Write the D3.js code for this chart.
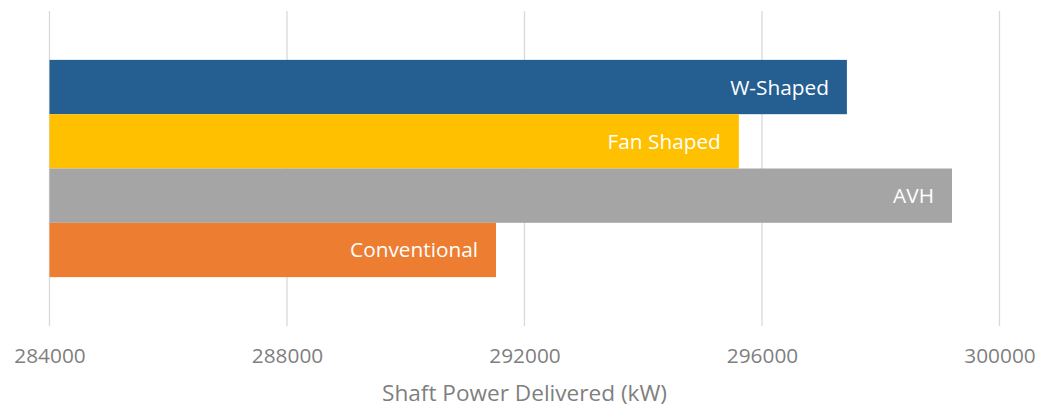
<!DOCTYPE html>
<html>
<head>
<meta charset="utf-8">
<script src="https://cdn.jsdelivr.net/npm/d3@7"></script>
<style>
  body { margin: 0; background: #fff; }
  svg { display: block; font-family: "Open Sans", sans-serif; }
</style>
</head>
<body>
<script>
// data
const designs = ["W-Shaped", "Fan Shaped", "AVH", "Conventional"];
const shaftPower = [297430, 295610, 299200, 291520];
const barColors = ["#255E91", "#FFC000", "#A5A5A5", "#ED7D31"];
const xTicks = [284000, 288000, 292000, 296000, 300000];
const xTitle = "Shaft Power Delivered (kW)";

const width = 1038, height = 408;
const margin = { top: 11, right: 38.5, bottom: 82, left: 49.5 };
const innerW = width - margin.left - margin.right;
const innerH = height - margin.top - margin.bottom;

const svg = d3.select("body").append("svg")
  .attr("width", width)
  .attr("height", height);

const g = svg.append("g")
  .attr("transform", `translate(${margin.left},${margin.top})`);

const x = d3.scaleLinear()
  .domain([284000, 300000])
  .range([0, innerW]);

const y = d3.scaleBand()
  .domain(designs)
  .range([0, innerH])
  .paddingInner(0)
  .paddingOuter(0.9);

// gridlines
g.selectAll(".grid")
  .data(xTicks)
  .enter()
  .append("line")
  .attr("x1", d => x(d))
  .attr("x2", d => x(d))
  .attr("y1", 0)
  .attr("y2", innerH)
  .attr("stroke", "#D9D9D9")
  .attr("stroke-width", 1.3);

// bars
const data = designs.map((d, i) => ({ name: d, value: shaftPower[i], color: barColors[i] }));

g.selectAll(".bar")
  .data(data)
  .enter()
  .append("rect")
  .attr("x", x(284000))
  .attr("y", d => y(d.name))
  .attr("width", d => x(d.value) - x(284000))
  .attr("height", y.bandwidth())
  .attr("fill", d => d.color);

// labels inside bar ends
g.selectAll(".lbl")
  .data(data)
  .enter()
  .append("text")
  .attr("x", d => x(d.value) - 18)
  .attr("y", d => y(d.name) + y.bandwidth() / 2)
  .attr("dy", "0.36em")
  .attr("text-anchor", "end")
  .attr("fill", "#fff")
  .style("font-size", "20.8px")
  .text(d => d.name);

// x axis labels
const xAxis = g.append("g")
  .attr("transform", `translate(0,${innerH})`)
  .call(d3.axisBottom(x).tickValues(xTicks).tickSize(0).tickPadding(22).tickFormat(d3.format("d")));
xAxis.select(".domain").remove();
xAxis.selectAll("text")
  .attr("fill", "#7F7F7F")
  .style("font-family", "'Open Sans', sans-serif")
  .style("font-size", "20.8px");

// axis title
svg.append("text")
  .attr("x", margin.left + innerW / 2)
  .attr("y", 392.5)
  .attr("dy", "0.36em")
  .attr("text-anchor", "middle")
  .attr("fill", "#7F7F7F")
  .style("font-size", "22.6px")
  .text(xTitle);
</script>
</body>
</html>
